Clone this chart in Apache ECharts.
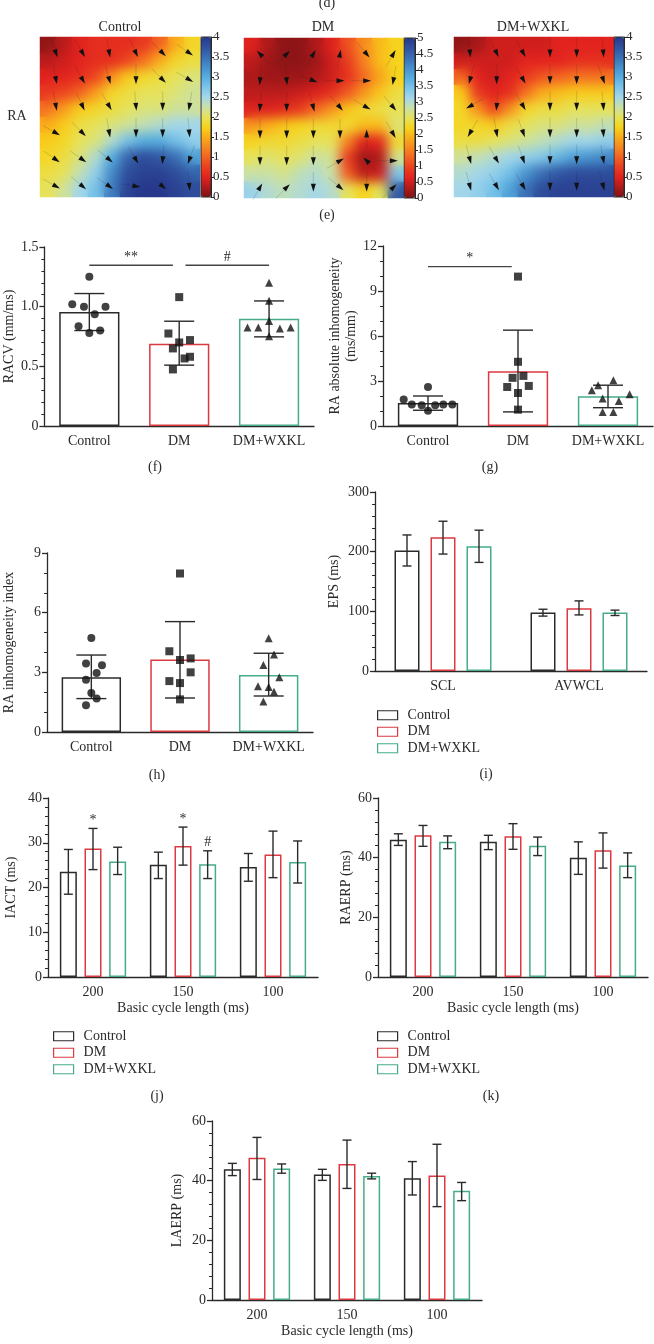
<!DOCTYPE html>
<html style="height: 100%">
<head>
    <meta charset="UTF-8">
    <title>RA activation maps and electrophysiology</title>
    <script src="https://cdn.jsdelivr.net/npm/echarts@6/dist/echarts.min.js"></script>
    <style>
        body { margin: 0; background: #fff; }
        #wrap { position: relative; width: 654px; height: 1344px; }
        .layer { position: absolute; }
        .clip { position: absolute; overflow: hidden; }
        .soft { filter: blur(6px); }
    </style>
</head>
<body>
<div id="wrap">
    <div id="main" class="layer" style="left: 0; top: 0; width: 654px; height: 1344px"></div>
    <div class="clip" style="left: 40px; top: 37px; width: 160px; height: 160px"><div id="soft0" class="soft" style="width: 160px; height: 160px"></div></div>
    <div class="clip" style="left: 244px; top: 38px; width: 160px; height: 160px"><div id="soft1" class="soft" style="width: 160px; height: 160px"></div></div>
    <div class="clip" style="left: 454px; top: 37px; width: 160px; height: 160px"><div id="soft2" class="soft" style="width: 160px; height: 160px"></div></div>
    <div id="arrows" class="layer" style="left: 0; top: 0; width: 654px; height: 220px"></div>
</div>
<script type="text/javascript">
    // ---------- data ----------
    var groups = ['Control', 'DM', 'DM+WXKL'];
    var cycleLengths = ['200', '150', '100'];
    var epsCats = ['SCL', 'AVWCL'];

    // (e) activation time maps, 10 x 10, row 0 = top
    var mapControl = [
        [0.1, 0.3, 0.5, 0.6, 0.6, 0.6, 0.7, 1.0, 1.5, 1.8],
        [0.3, 0.4, 0.5, 0.6, 0.6, 0.8, 1.1, 1.5, 1.8, 1.9],
        [0.5, 0.5, 0.6, 0.8, 1.3, 1.7, 1.8, 1.9, 2.0, 2.1],
        [0.7, 0.8, 1.0, 1.4, 1.8, 1.9, 2.0, 2.0, 2.1, 2.2],
        [1.1, 1.4, 1.7, 1.8, 1.9, 2.0, 2.1, 2.1, 2.2, 2.2],
        [1.5, 1.7, 1.9, 2.0, 2.1, 2.2, 2.3, 2.4, 2.5, 2.5],
        [1.7, 1.8, 2.0, 2.1, 2.4, 2.8, 3.0, 3.0, 2.8, 2.6],
        [1.8, 1.9, 2.1, 2.4, 3.0, 3.6, 3.8, 3.7, 3.5, 3.1],
        [1.9, 2.0, 2.3, 2.6, 3.3, 3.8, 3.9, 3.9, 3.8, 3.6],
        [2.0, 2.2, 2.5, 2.8, 3.4, 3.9, 4.0, 4.0, 3.9, 3.8]
    ];
    var mapDM = [
        [0.6, 0.3, 0.1, 0.1, 0.3, 0.6, 1.1, 1.6, 2.0, 2.2],
        [0.4, 0.2, 0.1, 0.1, 0.2, 0.5, 0.9, 1.5, 2.0, 2.2],
        [0.3, 0.2, 0.2, 0.2, 0.3, 0.5, 0.8, 1.3, 1.8, 2.2],
        [0.4, 0.4, 0.4, 0.5, 0.6, 0.8, 1.2, 1.7, 2.1, 2.4],
        [0.6, 0.6, 0.7, 0.9, 1.3, 1.7, 2.1, 2.3, 2.4, 2.5],
        [1.7, 1.9, 2.1, 2.2, 2.3, 2.3, 2.3, 2.0, 2.0, 2.6],
        [2.2, 2.3, 2.3, 2.4, 2.5, 2.5, 1.5, 0.6, 0.7, 2.3],
        [2.5, 2.6, 2.5, 2.6, 2.8, 2.7, 0.9, 0.2, 0.3, 2.7],
        [2.8, 2.8, 2.7, 2.9, 3.0, 2.8, 1.2, 0.4, 0.5, 3.4],
        [3.2, 3.0, 2.9, 3.0, 3.1, 3.0, 2.5, 2.2, 2.5, 4.6]
    ];
    var mapWXKL = [
        [0.1, 0.2, 0.4, 0.4, 0.4, 0.4, 0.5, 0.5, 0.5, 0.5],
        [0.4, 0.4, 0.4, 0.4, 0.5, 0.5, 0.5, 0.6, 0.6, 0.6],
        [1.0, 0.5, 0.4, 0.5, 0.7, 0.9, 1.0, 1.1, 1.1, 1.1],
        [1.7, 0.7, 0.5, 0.6, 1.1, 1.5, 1.6, 1.7, 1.7, 1.7],
        [1.8, 1.3, 0.8, 1.3, 1.8, 1.9, 1.9, 2.0, 2.0, 2.0],
        [1.8, 1.8, 1.7, 1.9, 2.0, 2.1, 2.1, 2.2, 2.2, 2.3],
        [1.9, 1.9, 2.0, 2.1, 2.2, 2.3, 2.4, 2.5, 2.5, 2.6],
        [2.2, 2.3, 2.4, 2.5, 2.6, 2.7, 2.9, 3.1, 3.2, 3.3],
        [2.4, 2.5, 2.6, 2.8, 3.2, 3.5, 3.7, 3.8, 3.8, 3.8],
        [2.5, 2.6, 2.8, 3.1, 3.5, 3.8, 3.9, 3.9, 3.9, 3.9]
    ];
    var mapMax = [4, 5, 4];

    // conduction arrows, 6 x 6, degrees clockwise from +x on screen
    var arrowsControl = [
        [70, 60, 80, 65, 45, 35],
        [80, 60, 75, 90, 45, 30],
        [80, 65, 60, 85, 90, 100],
        [30, 45, 80, 90, 90, 85],
        [35, 35, 40, 60, 95, 110],
        [30, 40, 35, 10, 40, 85]
    ];
    var arrowsDM = [
        [225, 315, 300, 280, 50, 300],
        [95, 85, 20, 0, 0, 100],
        [95, 90, 75, 50, 30, 50],
        [90, 90, 90, 90, 270, 60],
        [90, 90, 90, 330, 225, 0],
        [300, 315, 90, 40, 90, 315]
    ];
    var arrowsWXKL = [
        [85, 65, 60, 90, 90, 85],
        [105, 90, 60, 90, 90, 70],
        [150, 95, 60, 90, 90, 85],
        [120, 80, 70, 90, 90, 85],
        [75, 60, 70, 90, 90, 80],
        [75, 60, 60, 90, 90, 75]
    ];

    // (f) RACV (mm/ms): mean, [low, high], dots [jitter, value]
    var racvMean = [0.956, 0.690, 0.898];
    var racvErr = [[0.80, 1.11], [0.51, 0.878], [0.747, 1.048]];
    var racvDots = [
        [[0, 1.25], [-0.19, 1.02], [-0.06, 1.00], [0.18, 1.00], [0.06, 0.937], [-0.12, 0.836], [0, 0.78], [0.12, 0.80]],
        [[0, 1.08], [-0.12, 0.775], [0, 0.70], [0.12, 0.72], [-0.07, 0.65], [0.06, 0.566], [0.12, 0.58], [-0.07, 0.474]],
        [[0, 1.2], [0, 1.05], [0, 0.88], [-0.24, 0.825], [-0.12, 0.825], [0.12, 0.817], [0.24, 0.825], [0, 0.753]]
    ];
    var racvSig = [[0, 0.93, 1.347, '**'], [1.07, 2.0, 1.347, '#']];

    // (g) RA absolute inhomogeneity (ms/mm)
    var absMean = [1.54, 3.65, 1.98];
    var absErr = [[1.05, 2.0], [0.94, 6.39], [1.22, 2.72]];
    var absDots = [
        [[0, 2.6], [-0.27, 1.76], [-0.18, 1.43], [-0.07, 1.38], [0, 1.02], [0.08, 1.38], [0.17, 1.43], [0.27, 1.43]],
        [[0, 9.96], [0, 4.28], [-0.06, 3.21], [0.06, 3.34], [-0.12, 2.6], [0.12, 2.67], [0, 2.2], [0, 1.09]],
        [[0.06, 3.05], [-0.11, 2.72], [-0.18, 2.38], [-0.06, 1.83], [0.24, 2.12], [0.12, 1.67], [-0.06, 0.94], [0.06, 0.94]]
    ];
    var absSig = [[0, 0.93, 10.62, '*']];

    // (h) RA inhomogeneity index
    var idxMean = [2.75, 3.64, 2.87];
    var idxErr = [[1.68, 3.87], [1.71, 5.55], [1.81, 3.96]];
    var idxDots = [
        [[0, 4.73], [-0.06, 3.45], [0.12, 3.35], [0.06, 2.97], [-0.06, 2.63], [0, 1.96], [0.06, 1.69], [-0.06, 1.34]],
        [[0, 7.97], [-0.12, 4.06], [0, 3.62], [0.12, 3.7], [0.12, 3.0], [-0.12, 2.56], [0, 2.46], [0, 1.64]],
        [[0, 4.71], [0.06, 3.9], [-0.06, 3.37], [0.12, 2.75], [-0.12, 2.3], [0, 2.26], [0.06, 2.03], [-0.06, 1.53]]
    ];

    // (i) EPS (ms) at SCL / AVWCL
    var epsMean = [[202, 98], [224, 105], [209, 98]];
    var epsErr = [
        [[176, 228], [92, 103.5]],
        [[196, 251], [94, 117.5]],
        [[182, 236], [93, 102]]
    ];

    // (j) IACT (ms) at 200 / 150 / 100 ms
    var iactMean = [[23.5, 25.1, 24.6], [28.7, 29.3, 27.4], [25.8, 25.2, 25.7]];
    var iactErr = [
        [[18.5, 28.5], [22.0, 27.9], [21.4, 27.6]],
        [[24.0, 33.2], [25.0, 33.5], [22.2, 32.6]],
        [[22.9, 29.0], [22.0, 28.2], [21.0, 30.4]]
    ];
    var iactMarks = [['', '', ''], ['*', '*', ''], ['', '#', '']];

    // (k) RAERP (ms)
    var raerpMean = [[46.0, 45.3, 40.0], [47.5, 47.2, 42.5], [45.3, 44.0, 37.4]];
    var raerpErr = [
        [[44.1, 48.0], [42.7, 47.5], [34.4, 45.3]],
        [[43.8, 50.8], [42.8, 51.4], [36.5, 48.3]],
        [[43.0, 47.3], [40.7, 46.9], [33.3, 41.6]]
    ];

    // LAERP (ms)
    var laerpMean = [[43.8, 42.1, 40.8], [47.7, 45.6, 41.7], [44.1, 41.6, 36.6]];
    var laerpErr = [
        [[41.7, 45.8], [40.1, 43.8], [35.2, 46.4]],
        [[40.4, 54.5], [37.4, 53.6], [31.3, 52.2]],
        [[42.5, 45.6], [40.6, 42.5], [33.3, 39.4]]
    ];

    // ---------- styling ----------
    var FONT = 'Liberation Serif';
    var INK = '#2a2a2a';
    var COLORS = ['#2b2b2b', '#dc3a40', '#46ad86'];
    var SYMBOLS = ['circle', 'rect', 'triangle'];
    var HEAT = ['#7e1315', '#b01a1b', '#e2231f', '#ea3f20', '#f26322', '#f68820', '#f9ac1b', '#f6d31b',
        '#e6e25a', '#c9e1a8', '#a3d6ea', '#7cc5ea', '#56addf', '#4590cc', '#3a6fb5', '#30529f', '#27388b'];

    var heatBoxes = [[40, 37, 160, 160], [244, 38, 160, 160], [454, 37, 160, 160]];
    var barBoxes = [[201, 37, 10, 160], [404, 38, 11, 160], [614, 37, 10, 160]];

    function newSpec() { return {grid: [], xAxis: [], yAxis: [], series: [], visualMap: []}; }
    function push(arr, o) { arr.push(o); return arr.length - 1; }

    function valueAxis(s, g, c) {
        return push(s.yAxis, {
            gridIndex: g, type: 'value', min: c.min, max: c.max, interval: c.interval,
            name: c.name, nameLocation: 'middle', nameGap: c.gap, nameRotate: 90,
            nameTextStyle: {fontFamily: FONT, fontSize: 14, color: INK, lineHeight: 16},
            axisLine: {show: true, onZero: false, lineStyle: {color: INK, width: 1.3}},
            axisTick: {show: true, length: 5, lineStyle: {color: INK, width: 1.3}},
            minorTick: {show: true, splitNumber: c.minor, length: 3, lineStyle: {color: INK, width: 1}},
            splitLine: {show: false}, minorSplitLine: {show: false},
            axisLabel: {margin: 6, fontFamily: FONT, fontSize: 14, color: INK, formatter: c.fmt}
        });
    }
    function categoryAxis(s, g, cats, name) {
        return push(s.xAxis, {
            gridIndex: g, type: 'category', data: cats,
            name: name || '', nameLocation: 'middle', nameGap: 24,
            nameTextStyle: {fontFamily: FONT, fontSize: 14, color: INK},
            axisLine: {onZero: false, lineStyle: {color: INK, width: 1.3}},
            axisTick: {alignWithLabel: true, length: 5, lineStyle: {color: INK, width: 1.3}},
            axisLabel: {margin: 8, interval: 0, fontFamily: FONT, fontSize: 14, color: INK}
        });
    }
    function hiddenValue(arr, g, min, max, inverse) {
        return push(arr, {gridIndex: g, type: 'value', min: min, max: max, inverse: !!inverse, show: false,
            axisLine: {show: false, onZero: false}, axisTick: {show: false}, axisLabel: {show: false}, splitLine: {show: false}});
    }

    function errorSeries(xi, yi, err, cap, shift, marks) {
        return {
            type: 'custom', xAxisIndex: xi, yAxisIndex: yi, silent: true, z: 3,
            data: err.map(function (e, i) { return [i, e[0], e[1]]; }),
            renderItem: function (params, api) {
                var lo = api.coord([api.value(0), api.value(1)]);
                var hi = api.coord([api.value(0), api.value(2)]);
                var x = lo[0] + shift;
                var st = {stroke: INK, lineWidth: 1.4};
                var kids = [
                    {type: 'line', shape: {x1: x, y1: lo[1], x2: x, y2: hi[1]}, style: st},
                    {type: 'line', shape: {x1: x - cap, y1: lo[1], x2: x + cap, y2: lo[1]}, style: st},
                    {type: 'line', shape: {x1: x - cap, y1: hi[1], x2: x + cap, y2: hi[1]}, style: st}
                ];
                var m = marks ? marks[params.dataIndex] : '';
                if (m) {
                    kids.push({type: 'text', style: {text: m, x: x, y: hi[1] - 8, align: 'center', verticalAlign: 'middle',
                        fontFamily: FONT, fontSize: 14, fill: INK}});
                }
                return {type: 'group', children: kids};
            }
        };
    }

    function sigSeries(xi, yi, sig) {
        return {
            type: 'custom', xAxisIndex: xi, yAxisIndex: yi, silent: true, z: 3,
            data: sig.map(function (s) { return [s[0], s[2], s[1]]; }),
            renderItem: function (params, api) {
                var a = api.coord([api.value(0), api.value(1)]);
                var b = api.coord([api.value(2), api.value(1)]);
                return {type: 'group', children: [
                    {type: 'line', shape: {x1: a[0], y1: a[1], x2: b[0], y2: b[1]}, style: {stroke: '#444', lineWidth: 1.3}},
                    {type: 'text', style: {text: sig[params.dataIndex][3], x: (a[0] + b[0]) / 2, y: a[1] - 8,
                        align: 'center', verticalAlign: 'middle', fontFamily: FONT, fontSize: 14, fill: INK}}
                ]};
            }
        };
    }

    function dotPlot(s, box, yc, means, err, dots, sig) {
        var g = push(s.grid, {left: box[0], top: box[1], width: box[2], height: box[3]});
        var xc = categoryAxis(s, g, groups);
        var xv = hiddenValue(s.xAxis, g, -0.5, 2.5);
        var y = valueAxis(s, g, yc);
        push(s.series, {
            type: 'bar', xAxisIndex: xc, yAxisIndex: y, barWidth: '67%', silent: true, z: 2,
            data: means.map(function (v, i) {
                return {value: v, itemStyle: {color: 'rgba(255,255,255,0)', borderColor: COLORS[i], borderWidth: 1.5}};
            })
        });
        push(s.series, errorSeries(xc, y, err, 15, 0));
        dots.forEach(function (pts, i) {
            push(s.series, {
                type: 'scatter', xAxisIndex: xv, yAxisIndex: y, symbol: SYMBOLS[i], symbolSize: 8, silent: true, z: 4,
                itemStyle: {color: '#111'},
                data: pts.map(function (p) { return [i + p[0], p[1]]; })
            });
        });
        if (sig) push(s.series, sigSeries(xv, y, sig));
    }

    function groupedPlot(s, box, cats, yc, means, err, bw, gapPct, cap, marks, xName) {
        var g = push(s.grid, {left: box[0], top: box[1], width: box[2], height: box[3]});
        var xc = categoryAxis(s, g, cats, xName);
        var y = valueAxis(s, g, yc);
        var pitch = bw * (1 + gapPct / 100);
        groups.forEach(function (name, k) {
            push(s.series, {
                type: 'bar', name: name, xAxisIndex: xc, yAxisIndex: y, barWidth: bw, barGap: gapPct + '%', silent: true, z: 2,
                itemStyle: {color: 'rgba(255,255,255,0)', borderColor: COLORS[k], borderWidth: 1.5},
                data: means[k]
            });
        });
        groups.forEach(function (name, k) {
            push(s.series, errorSeries(xc, y, err[k], cap, (k - 1) * pitch, marks ? marks[k] : null));
        });
    }

    // heat map cells on category axes; colour bar only on the main layer
    function heatMap(s, vals, max, box, cb) {
        var cells = vals[0].map(function (v, i) { return String(i); });
        var g = push(s.grid, {left: box[0], top: box[1], width: box[2], height: box[3]});
        var xi = push(s.xAxis, {gridIndex: g, type: 'category', data: cells, show: false});
        var yi = push(s.yAxis, {gridIndex: g, type: 'category', data: cells, inverse: true, show: false});
        var data = [];
        vals.forEach(function (row, r) { row.forEach(function (v, c) { data.push([c, r, v]); }); });
        var si = push(s.series, {type: 'heatmap', xAxisIndex: xi, yAxisIndex: yi, data: data, silent: true,
            itemStyle: {borderWidth: 0}, emphasis: {disabled: true}});
        var vm = {type: 'continuous', seriesIndex: si, min: 0, max: max, inRange: {color: HEAT},
            calculable: false, hoverLink: false, show: false, padding: 0};
        if (cb) {
            vm.show = true;
            vm.left = cb[0]; vm.top = cb[1]; vm.itemWidth = cb[2]; vm.itemHeight = cb[3]; vm.z = 4;
            var gc = push(s.grid, {left: cb[0], top: cb[1], width: cb[2], height: cb[3],
                show: true, borderColor: INK, borderWidth: 1, backgroundColor: 'rgba(0,0,0,0)', z: 10});
            hiddenValue(s.xAxis, gc, 0, 1);
            push(s.yAxis, {
                gridIndex: gc, type: 'value', position: 'right', min: 0, max: max, interval: 0.5, z: 10,
                axisLine: {show: true, onZero: false, lineStyle: {color: INK, width: 1}},
                axisTick: {show: true, length: 3, lineStyle: {color: INK, width: 1}},
                splitLine: {show: false},
                axisLabel: {margin: 2, fontFamily: FONT, fontSize: 13, color: INK}
            });
        }
        s.visualMap.push(vm);
    }

    function arrowField(s, arrows, box) {
        var g = push(s.grid, {left: box[0], top: box[1], width: box[2], height: box[3]});
        var ax = hiddenValue(s.xAxis, g, -0.6, 5.4);
        var ay = hiddenValue(s.yAxis, g, -0.6, 5.4, true);
        var arr = [];
        arrows.forEach(function (row, r) { row.forEach(function (a, c) { arr.push([c, r, a]); }); });
        push(s.series, {
            type: 'custom', xAxisIndex: ax, yAxisIndex: ay, silent: true, data: arr,
            renderItem: function (params, api) {
                var p = api.coord([api.value(0), api.value(1)]);
                var a = api.value(2) * Math.PI / 180;
                var dx = Math.cos(a), dy = Math.sin(a);
                var tip = [p[0] + dx * 4.5, p[1] + dy * 4.5];
                var base = [p[0] - dx * 3.5, p[1] - dy * 3.5];
                var tail = [p[0] - dx * 15, p[1] - dy * 15];
                return {type: 'group', children: [
                    {type: 'line', shape: {x1: tail[0], y1: tail[1], x2: base[0], y2: base[1]},
                        style: {stroke: 'rgba(30,30,30,0.28)', lineWidth: 0.6}},
                    {type: 'polygon', shape: {points: [tip, [base[0] - dy * 2.5, base[1] + dx * 2.5], [base[0] + dy * 2.5, base[1] - dx * 2.5]]},
                        style: {fill: '#111'}}
                ]};
            }
        });
    }

    function legendAt(left, top) {
        return {
            orient: 'vertical', left: left, top: top, itemWidth: 20, itemHeight: 9, itemGap: 2, icon: 'rect',
            selectedMode: false, padding: 0,
            textStyle: {fontFamily: FONT, fontSize: 14, color: INK, lineHeight: 14.5, padding: [0, 0, 0, 5]},
            data: groups.map(function (n, k) {
                return {name: n, itemStyle: {color: '#fff', borderColor: COLORS[k], borderWidth: 1.2}};
            })
        };
    }

    var maps = [mapControl, mapDM, mapWXKL];
    var arrowSets = [arrowsControl, arrowsDM, arrowsWXKL];

    // ---------- main layer ----------
    var mainSpec = newSpec();
    maps.forEach(function (m, i) { heatMap(mainSpec, m, mapMax[i], heatBoxes[i], barBoxes[i]); });

    dotPlot(mainSpec, [44, 247, 270, 179], {min: 0, max: 1.5, interval: 0.5, minor: 5, name: 'RACV (mm/ms)', gap: 27,
        fmt: function (v) { return v === 0 ? '0' : v.toFixed(1); }}, racvMean, racvErr, racvDots, racvSig);
    dotPlot(mainSpec, [383, 246, 270, 180], {min: 0, max: 12, interval: 3, minor: 3, name: 'RA absolute inhomogeneity\n(ms/mm)', gap: 18},
        absMean, absErr, absDots, absSig);
    dotPlot(mainSpec, [43, 553, 270, 179], {min: 0, max: 9, interval: 3, minor: 3, name: 'RA inhomogeneity index', gap: 30},
        idxMean, idxErr, idxDots, null);

    groupedPlot(mainSpec, [375, 492, 272, 179], epsCats, {min: 0, max: 300, interval: 100, minor: 5, name: 'EPS (ms)', gap: 33},
        epsMean, epsErr, 25, 44, 4.5, null, '');
    groupedPlot(mainSpec, [48, 798, 270, 179], cycleLengths, {min: 0, max: 40, interval: 10, minor: 5, name: 'IACT (ms)', gap: 29},
        iactMean, iactErr, 17, 45, 4.5, iactMarks, 'Basic cycle length (ms)');
    groupedPlot(mainSpec, [378, 798, 270, 179], cycleLengths, {min: 0, max: 60, interval: 20, minor: 5, name: 'RAERP (ms)', gap: 24},
        raerpMean, raerpErr, 17, 45, 4.5, null, 'Basic cycle length (ms)');
    groupedPlot(mainSpec, [212, 1121, 270, 179], cycleLengths, {min: 0, max: 60, interval: 20, minor: 5, name: 'LAERP (ms)', gap: 27},
        laerpMean, laerpErr, 17, 45, 4.5, null, 'Basic cycle length (ms)');

    var texts = [
        ['(d)', 327, 3], ['Control', 120, 27], ['DM', 323, 27], ['DM+WXKL', 533, 27], ['RA', 17, 116], ['(e)', 327, 215],
        ['(f)', 155, 467], ['(g)', 490, 467], ['(h)', 157, 775], ['(i)', 486, 774], ['(j)', 157, 1096], ['(k)', 491, 1096]
    ];

    var myChart = echarts.init(document.getElementById('main'));
    myChart.setOption({
        backgroundColor: '#fff',
        animation: false,
        grid: mainSpec.grid,
        xAxis: mainSpec.xAxis,
        yAxis: mainSpec.yAxis,
        visualMap: mainSpec.visualMap,
        legend: [legendAt(377, 708), legendAt(53, 1029), legendAt(377, 1029)],
        graphic: texts.map(function (t) {
            return {type: 'text', x: t[1], y: t[2], silent: true,
                style: {text: t[0], align: 'center', verticalAlign: 'middle', fontFamily: FONT, fontSize: 14, fill: INK}};
        }),
        series: mainSpec.series
    });

    // ---------- softened copies of the maps (blurred by css, clipped to each panel) ----------
    maps.forEach(function (m, i) {
        var s = newSpec();
        heatMap(s, m, mapMax[i], [0, 0, 160, 160], null);
        var c = echarts.init(document.getElementById('soft' + i));
        c.setOption({animation: false, grid: s.grid, xAxis: s.xAxis, yAxis: s.yAxis, visualMap: s.visualMap, series: s.series});
    });

    // ---------- arrows on top ----------
    var arrowSpec = newSpec();
    arrowSets.forEach(function (a, i) { arrowField(arrowSpec, a, heatBoxes[i]); });
    var arrowChart = echarts.init(document.getElementById('arrows'));
    arrowChart.setOption({animation: false, grid: arrowSpec.grid, xAxis: arrowSpec.xAxis, yAxis: arrowSpec.yAxis, series: arrowSpec.series});
</script>
</body>
</html>
